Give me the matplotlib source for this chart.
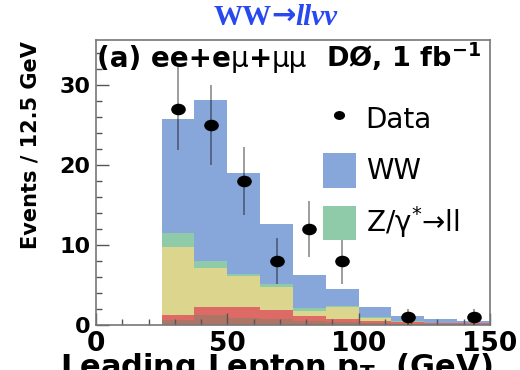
import numpy as np
import matplotlib
matplotlib.use("Agg")
import matplotlib.pyplot as plt
from matplotlib.path import Path
from matplotlib.lines import Line2D
from matplotlib.patches import Patch
from matplotlib.ticker import MultipleLocator

# Leading lepton pT binning (12.5 GeV bins from 25 to 150 GeV)
bin_edges = [25, 37.5, 50, 62.5, 75, 87.5, 100, 112.5, 125, 137.5, 150]

# Expected events per bin for each process, stacked bottom to top
ttbar = [0.6, 1.2, 0.85, 0.7, 0.5, 0.4, 0.3, 0.15, 0.1, 0.1]
wz_zz = [0.6, 1.1, 1.45, 1.2, 0.6, 0.4, 0.25, 0.2, 0.1, 0.1]
wjets = [8.5, 4.8, 3.8, 2.8, 0.7, 1.5, 0.35, 0.05, 0.05, 0.05]
zgamma = [1.8, 0.9, 0.3, 0.4, 0.3, 0.1, 0.05, 0.05, 0.05, 0.02]
ww = [14.25, 20.1, 12.6, 7.5, 4.15, 2.1, 1.35, 0.65, 0.4, 0.23]

# Observed events per bin
data_counts = [27, 25, 18, 8, 12, 8, 0, 1, 0, 1]

stack = [ttbar, wz_zz, wjets, zgamma, ww]
colors = ["#ad7566", "#de6a66", "#dcd58e", "#8fcaa9", "#87a6da"]

plt.rcParams["font.family"] = "DejaVu Sans"
plt.rcParams["mathtext.fontset"] = "dejavusans"

fig = plt.figure(figsize=(5.2, 3.7), dpi=100)
ax = fig.add_axes([0.1846, 0.1216, 0.7577, 0.7703])

edges = np.array(bin_edges)
bottom = np.zeros(len(edges) - 1)
for vals, c in zip(stack, colors):
    top = bottom + np.array(vals)
    ax.stairs(top, edges, baseline=bottom, fill=True, color=c, lw=0)
    bottom = top

# Data points with sqrt(N) errors; empty bins are not drawn
circle = Path.unit_circle()
dot = Path(circle.vertices * [1.3, 1.0], circle.codes)
centers = 0.5 * (edges[:-1] + edges[1:])
counts = np.array(data_counts, dtype=float)
keep = counts > 0
ax.errorbar(centers[keep], counts[keep], yerr=np.sqrt(counts[keep]),
            fmt="none", ecolor=(0, 0, 0, 0.45), elinewidth=1.2, capsize=0, zorder=4)
ax.plot(centers[keep], counts[keep], ls="none", marker=dot, ms=9.5,
        color="black", zorder=5)

ax.set_xlim(0, 150)
ax.set_ylim(0, 35.6)
ax.xaxis.set_major_locator(MultipleLocator(50))
ax.xaxis.set_minor_locator(MultipleLocator(10))
ax.yaxis.set_major_locator(MultipleLocator(10))
ax.yaxis.set_minor_locator(MultipleLocator(2))
ax.tick_params(which="both", direction="in", color="#555555", width=1)
ax.tick_params(which="major", length=9)
ax.tick_params(which="minor", length=4.5)
ax.tick_params(axis="x", labelsize=19, pad=4)
ax.tick_params(axis="y", labelsize=16, pad=4)
for lab in ax.get_xticklabels() + ax.get_yticklabels():
    lab.set_fontweight("bold")
for sp in ax.spines.values():
    sp.set_color("#777777")
    sp.set_linewidth(1.2)


def chain_text(x, y, pieces, size, transform, color="black"):
    """Write pieces of text one after another on a common bottom line."""
    s, w, st, fam = pieces[0]
    t = fig.text(x, y, s, transform=transform, fontsize=size, fontweight=w,
                 fontstyle=st, color=color, family=fam, va="bottom", ha="left")
    for s, w, st, fam in pieces[1:]:
        t = ax.annotate(s, xy=(1, 0), xycoords=t, fontsize=size, fontweight=w,
                        fontstyle=st, color=color, family=fam,
                        va="bottom", ha="left", annotation_clip=False)
    return t


sans = "DejaVu Sans"
serif = ["Liberation Serif", "DejaVu Serif"]

# Channel and luminosity labels
chain_text(0.003, 0.885,
           [("(a) ee+e", "bold", "normal", sans), ("μ", "normal", "normal", sans),
            ("+", "bold", "normal", sans), ("μμ", "normal", "normal", sans)],
           20, ax.transAxes)
ax.text(0.585, 0.885, r"DØ, 1 fb$^{\mathbf{-1}}$", transform=ax.transAxes,
        fontsize=19.5, fontweight="bold", va="bottom", ha="left")

# Title
chain_text(0.41, 1 - 31 / 370,
           [("WW", "bold", "normal", serif), ("→", "bold", "normal", sans),
            ("llνν", "bold", "italic", serif)],
           21, fig.transFigure, color="#2848f0")

handles = [Line2D([], [], ls="none", marker=dot, ms=7, color="black"),
           Patch(fc=colors[4], ec="none"),
           Patch(fc=colors[3], ec="none")]
ax.legend(handles, ["Data", "WW", r"Z/γ$^{*}$→ll"], loc="upper left",
          bbox_to_anchor=(0.575, 0.785), frameon=False, fontsize=20,
          handlelength=1.2, handleheight=1.55, labelspacing=0.6,
          handletextpad=0.35, borderpad=0, borderaxespad=0)

fig.text(0.058, 0.608, "Events / 12.5 GeV", rotation=90, fontsize=15,
         fontweight="bold", ha="center", va="center")
fig.text(0.531, 0.052, r"Leading Lepton p$_{\mathbf{T}}$  (GeV)", fontsize=22,
         fontweight="bold", ha="center", va="top")

fig.savefig("out.png", dpi=100)
